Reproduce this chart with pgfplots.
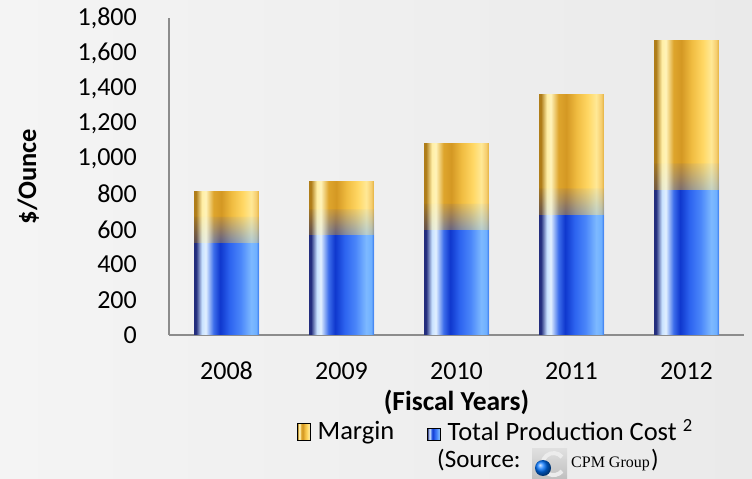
\documentclass[border=0pt]{standalone}
\usepackage{pgfplots}
\usepackage{pgfplotstable}
\pgfplotsset{compat=1.18}
\usetikzlibrary{fadings}
\usepackage{fontspec}
\setmainfont{Carlito}
\newfontfamily\serifcpm{Liberation Serif}
\definecolor{bgL}{RGB}{244,244,244}
\definecolor{bgR}{RGB}{234,234,234}
\definecolor{axisgray}{RGB}{140,140,140}
\definecolor{b0}{RGB}{35,45,125}
\definecolor{b1}{RGB}{200,225,255}
\definecolor{b2}{RGB}{225,240,255}
\definecolor{b3}{RGB}{60,110,235}
\definecolor{b4}{RGB}{15,55,205}
\definecolor{b5}{RGB}{45,100,240}
\definecolor{b6}{RGB}{75,135,250}
\definecolor{b7}{RGB}{125,185,255}
\definecolor{b8}{RGB}{110,175,255}
\definecolor{b9}{RGB}{50,115,235}
\definecolor{g0}{RGB}{175,125,25}
\definecolor{g1}{RGB}{255,238,165}
\definecolor{g2}{RGB}{255,243,185}
\definecolor{g3}{RGB}{222,165,45}
\definecolor{g4}{RGB}{212,152,35}
\definecolor{g5}{RGB}{240,188,65}
\definecolor{g6}{RGB}{255,215,100}
\definecolor{g7}{RGB}{255,232,150}
\definecolor{g8}{RGB}{245,205,110}
\definecolor{g9}{RGB}{225,175,60}
\pgfdeclarehorizontalshading{bluecyl}{100bp}{color(0bp)=(b0); color(26.5bp)=(b0); color(31bp)=(b1); color(34bp)=(b2); color(40bp)=(b3); color(45bp)=(b4); color(52.5bp)=(b5); color(61bp)=(b6); color(69bp)=(b7); color(73bp)=(b8); color(75bp)=(b9); color(100bp)=(b9)}
\pgfdeclarehorizontalshading{goldcyl}{100bp}{color(0bp)=(g0); color(26.5bp)=(g0); color(31bp)=(g1); color(34bp)=(g2); color(40bp)=(g3); color(46bp)=(g4); color(54bp)=(g5); color(62.5bp)=(g6); color(69bp)=(g7); color(73bp)=(g8); color(75bp)=(g9); color(100bp)=(g9)}
\begin{tikzfadingfrompicture}[name=topfade]
  \fill[white!60!black] (-50bp,-50bp) rectangle (50bp,14bp);
  \shade[top color=white!8!black, bottom color=white!60!black] (-50bp,14bp) rectangle (50bp,25bp);
  \fill[black] (-50bp,25bp) rectangle (50bp,50bp);
\end{tikzfadingfrompicture}
\pgfplotstableread{
x blue total
0 521 814
1 564 874
2 594 1085
3 681 1367
4 823 1675
}\costdata
\begin{document}
\fontsize{26}{31}\selectfont
\begin{tikzpicture}
\shade[left color=bgL, right color=bgR] (0,0) rectangle (752pt,479pt);
\path[use as bounding box] (0,0) rectangle (752pt,479pt);
\begin{axis}[
  at={(169pt,144pt)}, anchor=south west,
  scale only axis, width=575pt, height=317pt,
  xmin=-0.5, xmax=4.5, ymin=0, ymax=1800,
  xtick={0,1,2,3,4}, xticklabels={2008,2009,2010,2011,2012},
  ytick={0,200,...,1800},
  major tick length=0pt,
  axis x line*=bottom, axis y line*=left,
  axis line style={draw=axisgray, line width=1.2pt},
  /pgf/number format/assume math mode=true,
  /pgf/number format/1000 sep={,},
  tick label style={font=\fontsize{26}{31}\selectfont},
  yticklabel style={anchor=east, inner sep=0pt, xshift=-32pt},
  xticklabel style={anchor=north, inner sep=0pt, yshift=-27pt},
  xlabel={\bfseries (Fiscal Years)},
  xlabel style={at={(axis description cs:0.5,-0.1735)}, anchor=north, inner sep=0pt, font=\fontsize{27.5}{33}\selectfont},
  ylabel={\bfseries \$/Ounce},
  ylabel style={at={(axis description cs:-0.245,0.5)}, anchor=center, inner sep=0pt, font=\fontsize{26.5}{32}\selectfont},
  legend columns=2,
  legend style={at={(axis description cs:0.2226,-0.306)}, anchor=west, draw=none, fill=none, inner sep=0pt,
    nodes={inner sep=0pt}, font=\fontsize{26.5}{32}\selectfont,
    /tikz/every odd column/.append style={column sep=7pt},
    /tikz/every even column/.append style={column sep=33pt}},
  bar/.style={ybar, bar shift=0pt, bar width=0.565, draw=none, forget plot},
]
\pgfplotsinvokeforeach{0,1,2,3,4}{
  \addplot[bar, shading=goldcyl, restrict x to domain=#1:#1]
    table[x=x, y=total] {\costdata};
  \addplot[bar, shading=bluecyl, path fading=topfade, restrict x to domain=#1:#1]
    table[x=x, y expr=\thisrow{blue}+150] {\costdata};
  \addplot[bar, shading=bluecyl, restrict x to domain=#1:#1]
    table[x=x, y=blue] {\costdata};
}
\addlegendimage{legend image code/.code={\shade[shading=goldcyl] (0pt,-8pt) rectangle (13pt,9pt);}}
\addlegendimage{legend image code/.code={\shade[shading=bluecyl] (0pt,-8pt) rectangle (13pt,4pt);}}
\legend{Margin, Total Production Cost \textsuperscript{2}}
\end{axis}
\node[anchor=base west, inner sep=0pt, font=\fontsize{25}{30}\selectfont] at (437pt,12pt) {(Source:};
\shade[top color=gray!25, bottom color=gray!50] (532pt,0pt) rectangle (567pt,30pt);
\draw[white!85!gray, line width=4pt] (562pt,22pt) arc[start angle=40, end angle=320, radius=11pt];
\shade[ball color=blue!55!cyan] (543pt,11pt) circle (8pt);
\node[anchor=base west, inner sep=0pt, font=\serifcpm\fontsize{16}{19}\selectfont] at (571pt,11pt) {CPM Group};
\node[anchor=base west, inner sep=0pt, font=\fontsize{25}{30}\selectfont] at (651pt,12pt) {)};
\end{tikzpicture}
\end{document}
